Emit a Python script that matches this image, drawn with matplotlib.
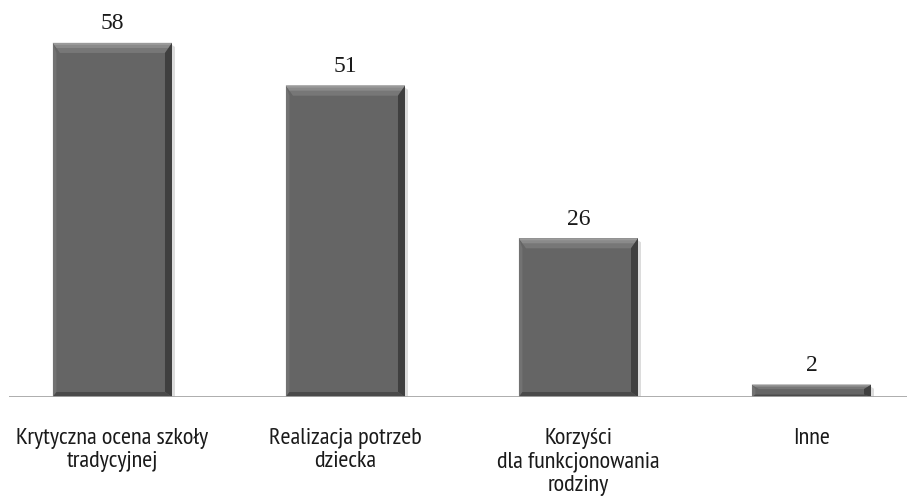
import matplotlib
matplotlib.use("Agg")
import matplotlib.pyplot as plt
from matplotlib.patches import Polygon
from matplotlib import font_manager

categories = ["Krytyczna ocena szkoły\ntradycyjnej", "Realizacja potrzeb\ndziecka",
              "Korzyści\ndla funkcjonowania\nrodziny", "Inne"]
values = [58, 51, 26, 2]

W, H = 908, 502
fig = plt.figure(figsize=(W / 100, H / 100), dpi=100)
ax_left, ax_right, base_y = 9, 907, 398
ax = fig.add_axes([ax_left / W, (H - base_y) / H, (ax_right - ax_left) / W, base_y / H])

xlim = (-0.444, 3.41)
ylim = (0, 65.2)
ax.set_xlim(*xlim)
ax.set_ylim(*ylim)
pxx = (ax_right - ax_left) / (xlim[1] - xlim[0])
pxy = base_y / (ylim[1] - ylim[0])

names = {f.name for f in font_manager.fontManager.ttflist}
cond_candidates = ["PT Sans Narrow", "Fira Sans Condensed", "Open Sans Condensed",
                   "Roboto Condensed", "Encode Sans Condensed", "Archivo Narrow",
                   "Asap Condensed", "IBM Plex Sans Condensed", "Barlow Semi Condensed",
                   "Liberation Sans Narrow", "Arial Narrow"]
cond = next((c for c in cond_candidates if c in names), "DejaVu Sans")
serif_candidates = ["Liberation Serif", "Tinos", "DejaVu Serif"]
serif = next((c for c in serif_candidates if c in names), "DejaVu Serif")

width = 0.511
xs = list(range(len(values)))
bars = ax.bar(xs, values, width=width, color="#656565", edgecolor="none", zorder=3)

for b, v in zip(bars, values):
    x0 = b.get_x(); x1 = x0 + b.get_width(); h = b.get_height()
    hp = h * pxy
    t = min(10, hp * 0.35) / pxy
    tb = min(5, hp * 0.2) / pxy
    s = 7 / pxx
    ax.add_patch(Polygon([(x1, h - 2 / pxy), (x1 + 3 / pxx, h - 4 / pxy), (x1 + 3 / pxx, 0), (x1, 0)],
                         closed=True, color="#dcdcdc", zorder=2, lw=0))
    ax.add_patch(Polygon([(x0, h), (x1, h), (x1 - s, h - t), (x0 + s, h - t)],
                         closed=True, color="#777777", zorder=4, lw=0))
    ax.add_patch(Polygon([(x0, h), (x1, h), (x1 - s * 0.5, h - t * 0.5), (x0 + s * 0.5, h - t * 0.5)],
                         closed=True, color="#8a8a8a", zorder=4, lw=0))
    ax.add_patch(Polygon([(x0, h), (x1, h), (x1 - s * 0.2, h - t * 0.2), (x0 + s * 0.2, h - t * 0.2)],
                         closed=True, color="#9a9a9a", zorder=4, lw=0))
    ax.add_patch(Polygon([(x1, h), (x1 - s, h - t), (x1 - s, tb), (x1, 0)],
                         closed=True, color="#3f3f3f", zorder=4, lw=0))
    ax.add_patch(Polygon([(x0, h), (x0 + s * 0.5, h - t), (x0 + s * 0.5, tb), (x0, 0)],
                         closed=True, color="#727272", zorder=4, lw=0))
    ax.add_patch(Polygon([(x0 + s * 0.5, tb), (x1 - s, tb), (x1, 0), (x0, 0)],
                         closed=True, color="#4a4a4a", zorder=4, lw=0))
    ax.annotate(str(v), xy=(b.get_x() + b.get_width() / 2, h), xytext=(0, 7),
                textcoords="offset points", ha="center", va="bottom",
                fontsize=17, family=serif, color="#1a1a1a")

for x, lab in zip(xs, categories):
    ax.annotate(lab, xy=(x, 0), xytext=(0, -21.5), textcoords="offset points",
                ha="center", va="top", fontsize=17.5, family=cond, color="#1a1a1a",
                linespacing=1.15)

for sp in ax.spines.values():
    sp.set_visible(False)
ax.axhline(0, color="#a6a6a6", lw=2, zorder=5)
ax.set_xticks([]); ax.set_yticks([])
ax.patch.set_alpha(0)

fig.savefig("out.png", dpi=100)
